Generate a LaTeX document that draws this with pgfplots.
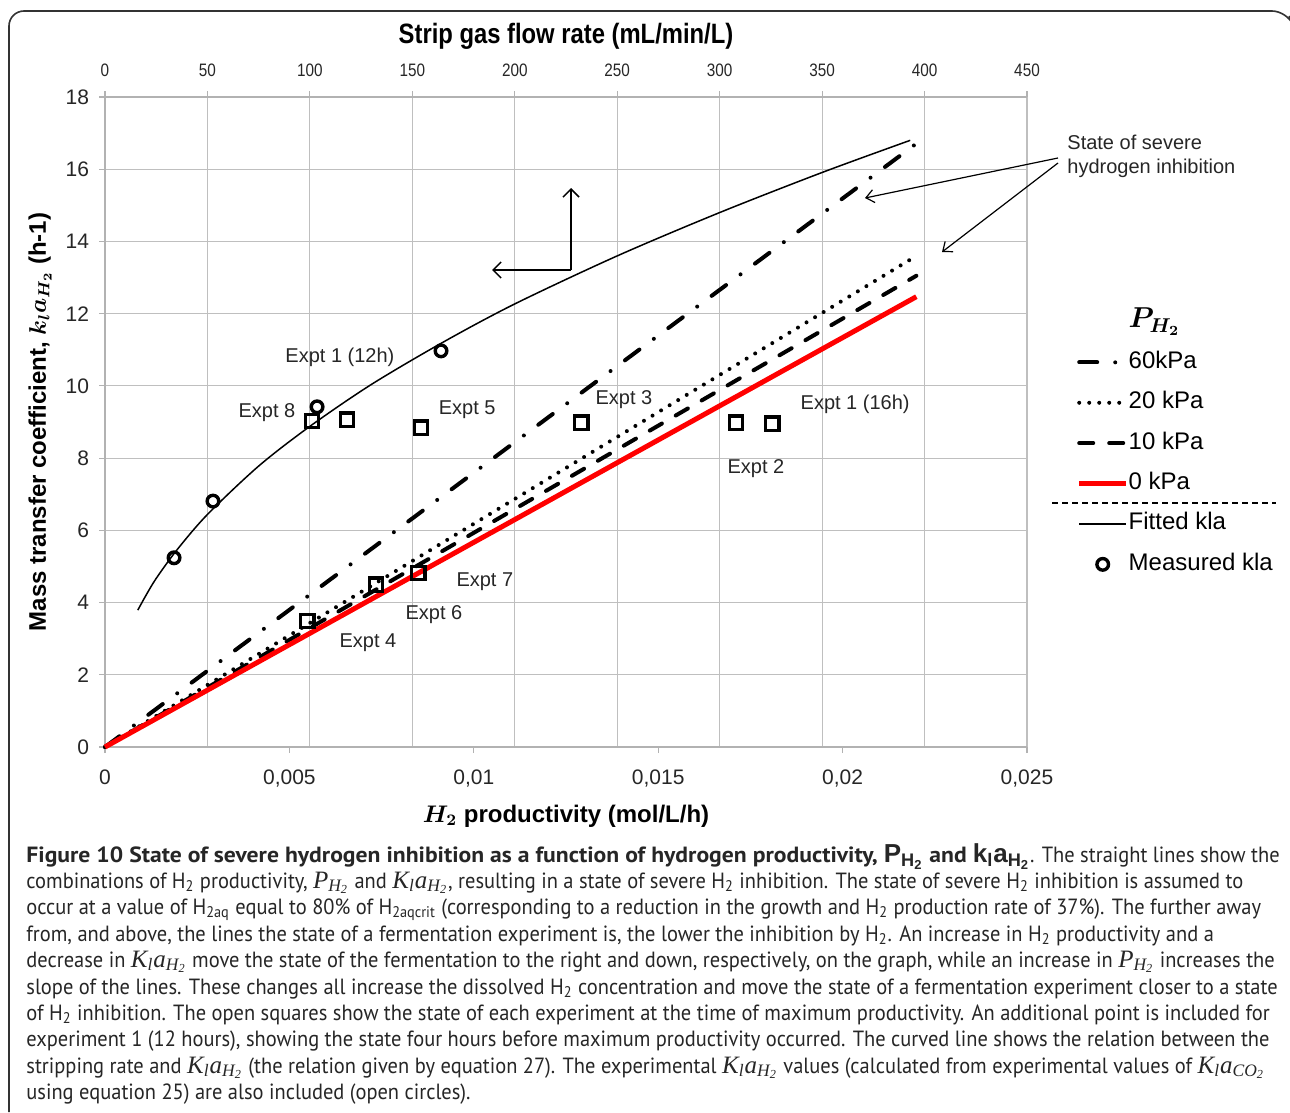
\documentclass[border=0pt]{standalone}
\usepackage{pgfplots}
\pgfplotsset{compat=1.18}
\usepackage{fontspec}
\usepackage{bm}
\usetikzlibrary{arrows.meta}
\setmainfont{Liberation Sans}
\newfontfamily\narrowfont{Liberation Sans}[FakeStretch=0.85]
\newfontfamily\capfont{PT Sans}[FakeStretch=0.93, BoldFeatures={FakeStretch=1.075}]
\newfontfamily\tms{Liberation Serif}
\newcommand{\sub}[1]{\textsubscript{#1}}
\newcommand{\mP}{{\tms\itshape\fontsize{12.5}{13}\selectfont P\sub{H\sub{2}}}}
\newcommand{\mK}{{\tms\itshape\fontsize{12.5}{13}\selectfont K\sub{l}a\sub{H\sub{2}}}}
\newcommand{\mKc}{{\tms\itshape\fontsize{12.5}{13}\selectfont K\sub{l}a\sub{CO\sub{2}}}}
\newcommand{\bP}{{\fontsize{13}{13}\selectfont$\mathbf{P_{H_2}}$}}
\newcommand{\bK}{{\fontsize{13}{13}\selectfont$\mathbf{k_l a_{H_2}}$}}
\newcommand{\Ht}{H\textsubscript{2}}
\pgfplotsset{
  common/.style={
    set layers,
    scale only axis, width=461pt, height=325pt,
    at={(52.5pt,-373.5pt)}, anchor=south west,
    ymin=0, ymax=18,
    grid style={gray!50, line width=0.6pt},
    axis line style={gray!60, line width=0.7pt},
    tick style={gray!60, line width=0.6pt},
    tick align=outside, major tick length=3pt,
    clip=false,
    /pgf/number format/assume math mode=true,
    ticklabel style={font=\fontsize{10.5}{12}\selectfont, text=black!85},
  }
}
\begin{document}
\begin{tikzpicture}
\path (0,0) rectangle (645pt,-556pt);
\draw[line width=0.8pt, black!80, rounded corners=7.5pt] (4.5pt,-556pt) -- (4.5pt,-5.5pt) -- (643.5pt,-5.5pt) -- (644.6pt,-8pt);

% top axis: strip gas flow rate
\begin{axis}[common,
  xmin=0, xmax=450,
  axis x line*=top, hide y axis,
  xtick={0,50,...,450}, xmajorgrids,
  xticklabel style={font=\narrowfont\fontsize{9}{10}\selectfont, yshift=3.5pt},
  xlabel={Strip gas flow rate (mL/min/L)},
  xlabel style={font=\narrowfont\bfseries\fontsize{14}{16}\selectfont, at={(axis description cs:0.5,1)}, anchor=center, yshift=30.5pt},
]
\addplot[black, line width=0.75pt, smooth] coordinates {
(16,3.79) (20,4.20) (25,4.67) (35,5.45) (50,6.44) (75,7.78) (100,8.88) (130,10.04)
(165,11.21) (200,12.27) (250,13.60) (300,14.80) (350,15.91) (393,16.80)};
\addplot[black, only marks, mark=o, mark size=2.9pt, mark options={line width=1.7pt, fill=white}] coordinates {
(33.7,5.24) (52.7,6.81) (103.5,9.42) (164,10.97)};
\end{axis}

% main axis: H2 productivity
\begin{axis}[common,
  xmin=0, xmax=0.025,
  axis x line*=bottom, axis y line*=left,
  scaled x ticks=false,
  xtick={0,0.005,0.01,0.015,0.02,0.025},
  xticklabels={0,{0,005},{0,01},{0,015},{0,02},{0,025}},
  xticklabel style={yshift=-5pt},
  ytick={0,2,...,18}, ymajorgrids,
  yticklabel style={xshift=-1.5pt},
  xlabel={$\bm{H_2}$ productivity (mol/L/h)},
  xlabel style={font=\bfseries\fontsize{12}{14}\selectfont, at={(axis description cs:0.5,-0.1062)}, anchor=center},
  ylabel={Mass transfer coefficient, $\bm{k_l a_{H_2}}$ (h-1)},
  ylabel style={font=\bfseries\fontsize{12}{14}\selectfont, at={(axis description cs:-0.0705,0.5)}, anchor=center},
  legend style={at={(1.0535,0.673)}, anchor=north west, draw=none, fill=none, inner sep=0pt,
    font=\fontsize{12}{14}\selectfont,
    nodes={inner sep=0pt, text height=9pt, text depth=3pt}, row sep=8.2pt, column sep=0pt},
  legend cell align=left,
  legend image code/.code={\draw[#1] (0pt,0pt) -- (23.5pt,0pt);},
]
\addlegendimage{empty legend}
\addlegendentry{\fontsize{14}{14}\selectfont$\bm{P_{H_2}}$}
\addplot[black, line width=2pt, line cap=round, dash pattern=on 9pt off 9pt on 0pt off 9pt] coordinates {(0,0) (0.022,16.71)};
\addlegendentry{60kPa}
\addplot[black, line width=2pt, line cap=round, dash pattern=on 0pt off 5pt] coordinates {(0,0) (0.022,13.60)};
\addlegendentry{20 kPa}
\addplot[black, line width=2pt, line cap=round, dash pattern=on 7pt off 8pt] coordinates {(0,0) (0.022,13.05)};
\addlegendentry{10 kPa}
\addplot[red, line width=2.5pt] coordinates {(0,0) (0.022,12.47)};
\addlegendentry{0 kPa}
\addlegendimage{black, line width=0.75pt}
\addlegendentry{Fitted kla}
\addlegendimage{legend image code/.code={\draw[black, line width=1.7pt] (11.75pt,0pt) circle (2.9pt);}}
\addlegendentry{Measured kla}
\addplot[black, only marks, mark=square, mark size=3.4pt, mark options={line width=1.6pt, fill=white}, forget plot] coordinates {
(0.00548,3.49) (0.00735,4.49) (0.00849,4.82) (0.00561,9.03) (0.00656,9.06)
(0.00857,8.84) (0.01291,8.98) (0.01711,8.98) (0.01809,8.95)};
\begin{scope}[every node/.style={font=\fontsize{10}{12}\selectfont, text=black!85, inner sep=0pt}]
\node at (axis cs:0.00637,10.80) {Expt 1 (12h)};
\node at (axis cs:0.00439,9.25) {Expt 8};
\node at (axis cs:0.00982,9.33) {Expt 5};
\node at (axis cs:0.01407,9.61) {Expt 3};
\node at (axis cs:0.02034,9.50) {Expt 1 (16h)};
\node at (axis cs:0.01765,7.70) {Expt 2};
\node at (axis cs:0.01030,4.57) {Expt 7};
\node at (axis cs:0.00892,3.66) {Expt 6};
\node at (axis cs:0.00713,2.88) {Expt 4};
\end{scope}
\end{axis}

% annotations
\draw[black, line width=0.75pt, -{Straight Barb[length=4pt, width=8pt]}] (285.5pt,-135pt) -- (285.5pt,-94pt);
\draw[black, line width=0.75pt, -{Straight Barb[length=4pt, width=8pt]}] (285.5pt,-135pt) -- (246pt,-135pt);
\node[anchor=west, align=left, inner sep=0pt, font=\fontsize{10}{12}\selectfont, text=black!85] at (533.5pt,-78pt) {State of severe\\hydrogen inhibition};
\draw[black, line width=0.6pt, -{Straight Barb[length=4pt, width=6.5pt]}] (529pt,-79pt) -- (432.5pt,-99pt);
\draw[black, line width=0.6pt, -{Straight Barb[length=4pt, width=6.5pt]}] (529pt,-81.5pt) -- (471pt,-126pt);
\draw[black, line width=0.6pt, dash pattern=on 3pt off 2pt] (526pt,-251.5pt) -- (638pt,-251.5pt);

% caption
\begin{scope}[every node/.style={anchor=base west, inner sep=0pt, text=black!85, font=\capfont\fontsize{11}{13}\selectfont}]
\node at (13pt,-431pt) {\textbf{Figure 10 State of severe hydrogen inhibition as a function of hydrogen productivity, \bP{} and \bK}. The straight lines show the};
\node at (13pt,-444pt) {combinations of \Ht{} productivity, \mP{} and \mK, resulting in a state of severe \Ht{} inhibition. The state of severe \Ht{} inhibition is assumed to};
\node at (13pt,-457pt) {occur at a value of H\textsubscript{2aq} equal to 80\% of H\textsubscript{2aqcrit} (corresponding to a reduction in the growth and \Ht{} production rate of 37\%). The further away};
\node at (13pt,-470.5pt) {from, and above, the lines the state of a fermentation experiment is, the lower the inhibition by \Ht. An increase in \Ht{} productivity and a};
\node at (13pt,-483.5pt) {decrease in \mK{} move the state of the fermentation to the right and down, respectively, on the graph, while an increase in \mP{} increases the};
\node at (13pt,-497pt) {slope of the lines. These changes all increase the dissolved \Ht{} concentration and move the state of a fermentation experiment closer to a state};
\node at (13pt,-510pt) {of \Ht{} inhibition. The open squares show the state of each experiment at the time of maximum productivity. An additional point is included for};
\node at (13pt,-523pt) {experiment 1 (12 hours), showing the state four hours before maximum productivity occurred. The curved line shows the relation between the};
\node at (13pt,-536.5pt) {stripping rate and \mK{} (the relation given by equation 27). The experimental \mK{} values (calculated from experimental values of \mKc};
\node at (13pt,-549.5pt) {using equation 25) are also included (open circles).};
\end{scope}
\end{tikzpicture}
\end{document}
